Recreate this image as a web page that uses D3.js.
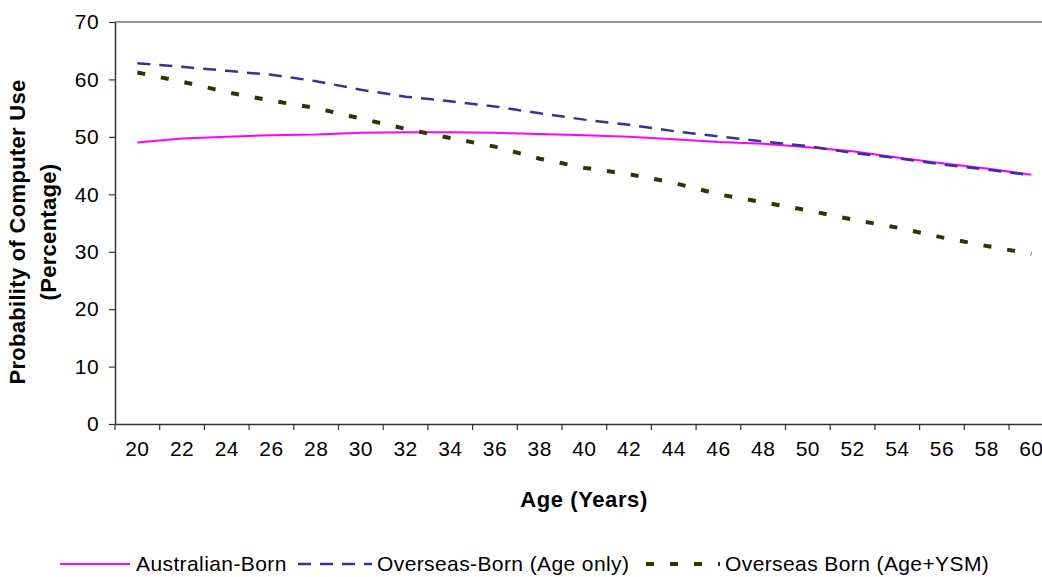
<!DOCTYPE html>
<html>
<head>
<meta charset="utf-8">
<script src="https://cdn.jsdelivr.net/npm/d3@7"></script>
<style>
  body { margin: 0; background: #fff; }
  text { font-family: "Liberation Sans", Arial, sans-serif; fill: #000; }
</style>
</head>
<body>
<script>
// ages on the category axis
var ages = [20, 22, 24, 26, 28, 30, 32, 34, 36, 38, 40, 42, 44, 46, 48, 50, 52, 54, 56, 58, 60];

// probability of computer use (%)
var australianBorn = [49.0, 49.7, 50.0, 50.3, 50.4, 50.7, 50.8, 50.8, 50.7, 50.5, 50.3,
                      50.0, 49.6, 49.1, 48.8, 48.2, 47.5, 46.4, 45.4, 44.5, 43.4];
var overseasAge = [62.8, 62.2, 61.5, 60.8, 59.7, 58.2, 57.0, 56.2, 55.3, 54.1, 53.0,
                   52.1, 51.0, 50.1, 49.2, 48.4, 47.2, 46.3, 45.2, 44.3, 43.3];
var overseasAgeYsm = [61.2, 59.6, 57.8, 56.3, 55.0, 53.2, 51.4, 49.8, 48.3, 46.2, 44.6,
                      43.5, 42.0, 40.0, 38.6, 37.2, 35.6, 34.2, 32.5, 31.0, 29.6];

var yTicks = [0, 10, 20, 30, 40, 50, 60, 70];
var seriesNames = ['Australian-Born', 'Overseas-Born (Age only)', 'Overseas Born (Age+YSM)'];

var width = 1042, height = 577;
var plotLeft = 115, plotTop = 22, plotBottom = 424;
var band = 44.7;
var plotRight = plotLeft + band * ages.length;

var svg = d3.select('body').append('svg')
  .attr('width', width)
  .attr('height', height);

var x = d3.scaleBand().domain(ages).range([plotLeft, plotRight]).padding(0);
var y = d3.scaleLinear().domain([0, 70]).range([plotBottom, plotTop]);

// plot frame: grey top edge, dark axes
svg.append('line')
  .attr('x1', plotLeft).attr('x2', plotRight)
  .attr('y1', plotTop).attr('y2', plotTop)
  .attr('stroke', '#9a9a9a').attr('stroke-width', 2);

var yAxis = d3.axisLeft(y).tickValues(yTicks).tickSize(6).tickPadding(10).tickSizeOuter(0);
var gy = svg.append('g').attr('transform', 'translate(' + plotLeft + ',0)').call(yAxis);
gy.select('.domain').attr('stroke', '#333').attr('stroke-width', 1.5);
gy.selectAll('.tick line').attr('stroke', '#333').attr('stroke-width', 1.2);
gy.selectAll('.tick text').style('font-size', '21px').style('letter-spacing', '0.4px').attr('fill', '#000');

var xAxis = d3.axisBottom(x).tickSize(0).tickPadding(17);
var gx = svg.append('g').attr('transform', 'translate(0,' + plotBottom + ')').call(xAxis);
gx.select('.domain').attr('stroke', '#333').attr('stroke-width', 1.5);
gx.selectAll('.tick text').style('font-size', '21px').style('letter-spacing', '0.4px').attr('fill', '#000');

// tick marks sit between categories
gx.selectAll('.sep').data(ages)
  .enter().append('line')
  .attr('x1', function(d) { return x(d); })
  .attr('x2', function(d) { return x(d); })
  .attr('y1', 0).attr('y2', 6)
  .attr('stroke', '#333').attr('stroke-width', 1.2);

var line = d3.line()
  .x(function(d, i) { return x(ages[i]) + x.bandwidth() / 2; })
  .y(function(d) { return y(d); });

var styles = [
  { color: '#ff00ff', width: 2, dash: null },
  { color: '#333399', width: 2.5, dash: '13,9' },
  { color: '#333300', width: 4, dash: '8,16' }
];
var allSeries = [australianBorn, overseasAge, overseasAgeYsm];

allSeries.forEach(function(vals, i) {
  svg.append('path')
    .datum(vals)
    .attr('fill', 'none')
    .attr('stroke', styles[i].color)
    .attr('stroke-width', styles[i].width)
    .attr('stroke-dasharray', styles[i].dash)
    .attr('d', line);
});

// axis titles
svg.append('text')
  .attr('x', 584).attr('y', 507)
  .attr('text-anchor', 'middle')
  .style('font-size', '22px').style('font-weight', 'bold').style('letter-spacing', '0.6px')
  .text('Age (Years)');

var yt = svg.append('text')
  .attr('transform', 'translate(0,232) rotate(-90)')
  .attr('text-anchor', 'middle')
  .style('font-size', '22px').style('font-weight', 'bold').style('letter-spacing', '0.3px');
yt.append('tspan').attr('x', 0).attr('y', 25).text('Probability of Computer Use');
yt.append('tspan').attr('x', 0).attr('y', 56).text('(Percentage)');

// legend
var legendX = [[60, 130, 136], [298, 372, 377], [646, 720, 725]];
var legendY = 564;
seriesNames.forEach(function(name, i) {
  svg.append('line')
    .attr('x1', legendX[i][0]).attr('x2', legendX[i][1])
    .attr('y1', legendY).attr('y2', legendY)
    .attr('stroke', styles[i].color)
    .attr('stroke-width', styles[i].width)
    .attr('stroke-dasharray', styles[i].dash);
  svg.append('text')
    .attr('x', legendX[i][2]).attr('y', legendY + 7)
    .style('font-size', '21px').style('letter-spacing', '0.4px')
    .text(name);
});
</script>
</body>
</html>
